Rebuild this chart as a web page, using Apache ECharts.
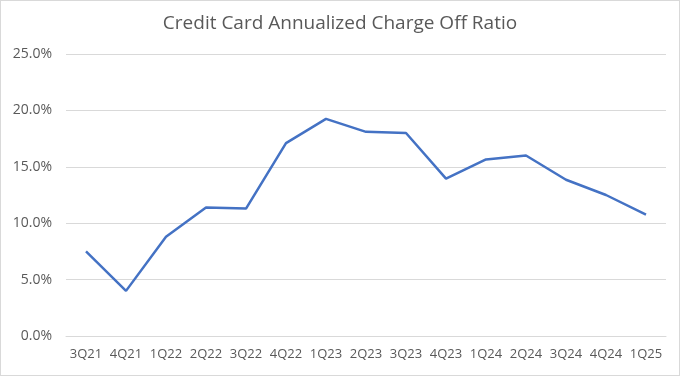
<!DOCTYPE html>
<html>
<head>
<meta charset="utf-8">
<script src="https://cdn.jsdelivr.net/npm/echarts@6/dist/echarts.min.js"></script>
<style>
  html, body { margin: 0; padding: 0; background: #fff; }
  #chart { width: 680px; height: 376px; box-sizing: border-box; border: 1px solid #d9d9d9; }
</style>
</head>
<body>
<div id="chart"></div>
<script>
// quarters on the x axis
const quarters = ['3Q21', '4Q21', '1Q22', '2Q22', '3Q22', '4Q22', '1Q23', '2Q23', '3Q23', '4Q23', '1Q24', '2Q24', '3Q24', '4Q24', '1Q25']
// annualized charge off ratio, in percent
const chargeOffRatio = [7.5, 4.0, 8.8, 11.4, 11.3, 17.1, 19.25, 18.1, 18.0, 13.95, 15.65, 16.0, 13.85, 12.5, 10.75]

const chart = echarts.init(document.getElementById('chart'))

const option = {
  animation: false,
  title: {
    text: 'Credit Card Annualized Charge Off Ratio',
    left: 'center',
    top: 8,
    textStyle: { fontFamily: 'Open Sans', fontSize: 19, fontWeight: 'normal', color: '#595959' }
  },
  grid: { left: 65, right: 13, top: 53, bottom: 39 },
  xAxis: {
    type: 'category',
    data: quarters,
    boundaryGap: true,
    axisLine: { lineStyle: { color: '#d9d9d9' } },
    axisTick: { show: false },
    axisLabel: { interval: 0, color: '#595959', fontFamily: 'Open Sans', fontSize: 13, margin: 12 }
  },
  yAxis: {
    type: 'value',
    min: 0,
    max: 25,
    interval: 5,
    axisLine: { show: false },
    axisTick: { show: false },
    splitLine: { lineStyle: { color: '#d9d9d9', width: 1 } },
    axisLabel: {
      color: '#595959',
      fontFamily: 'Open Sans',
      fontSize: 14,
      margin: 14,
      formatter: v => v.toFixed(1) + '%'
    }
  },
  series: [{
    name: 'Charge Off Ratio',
    type: 'line',
    data: chargeOffRatio,
    symbol: 'none',
    lineStyle: { color: '#4472c4', width: 2.5 },
    itemStyle: { color: '#4472c4' }
  }]
}

chart.setOption(option)
</script>
</body>
</html>
